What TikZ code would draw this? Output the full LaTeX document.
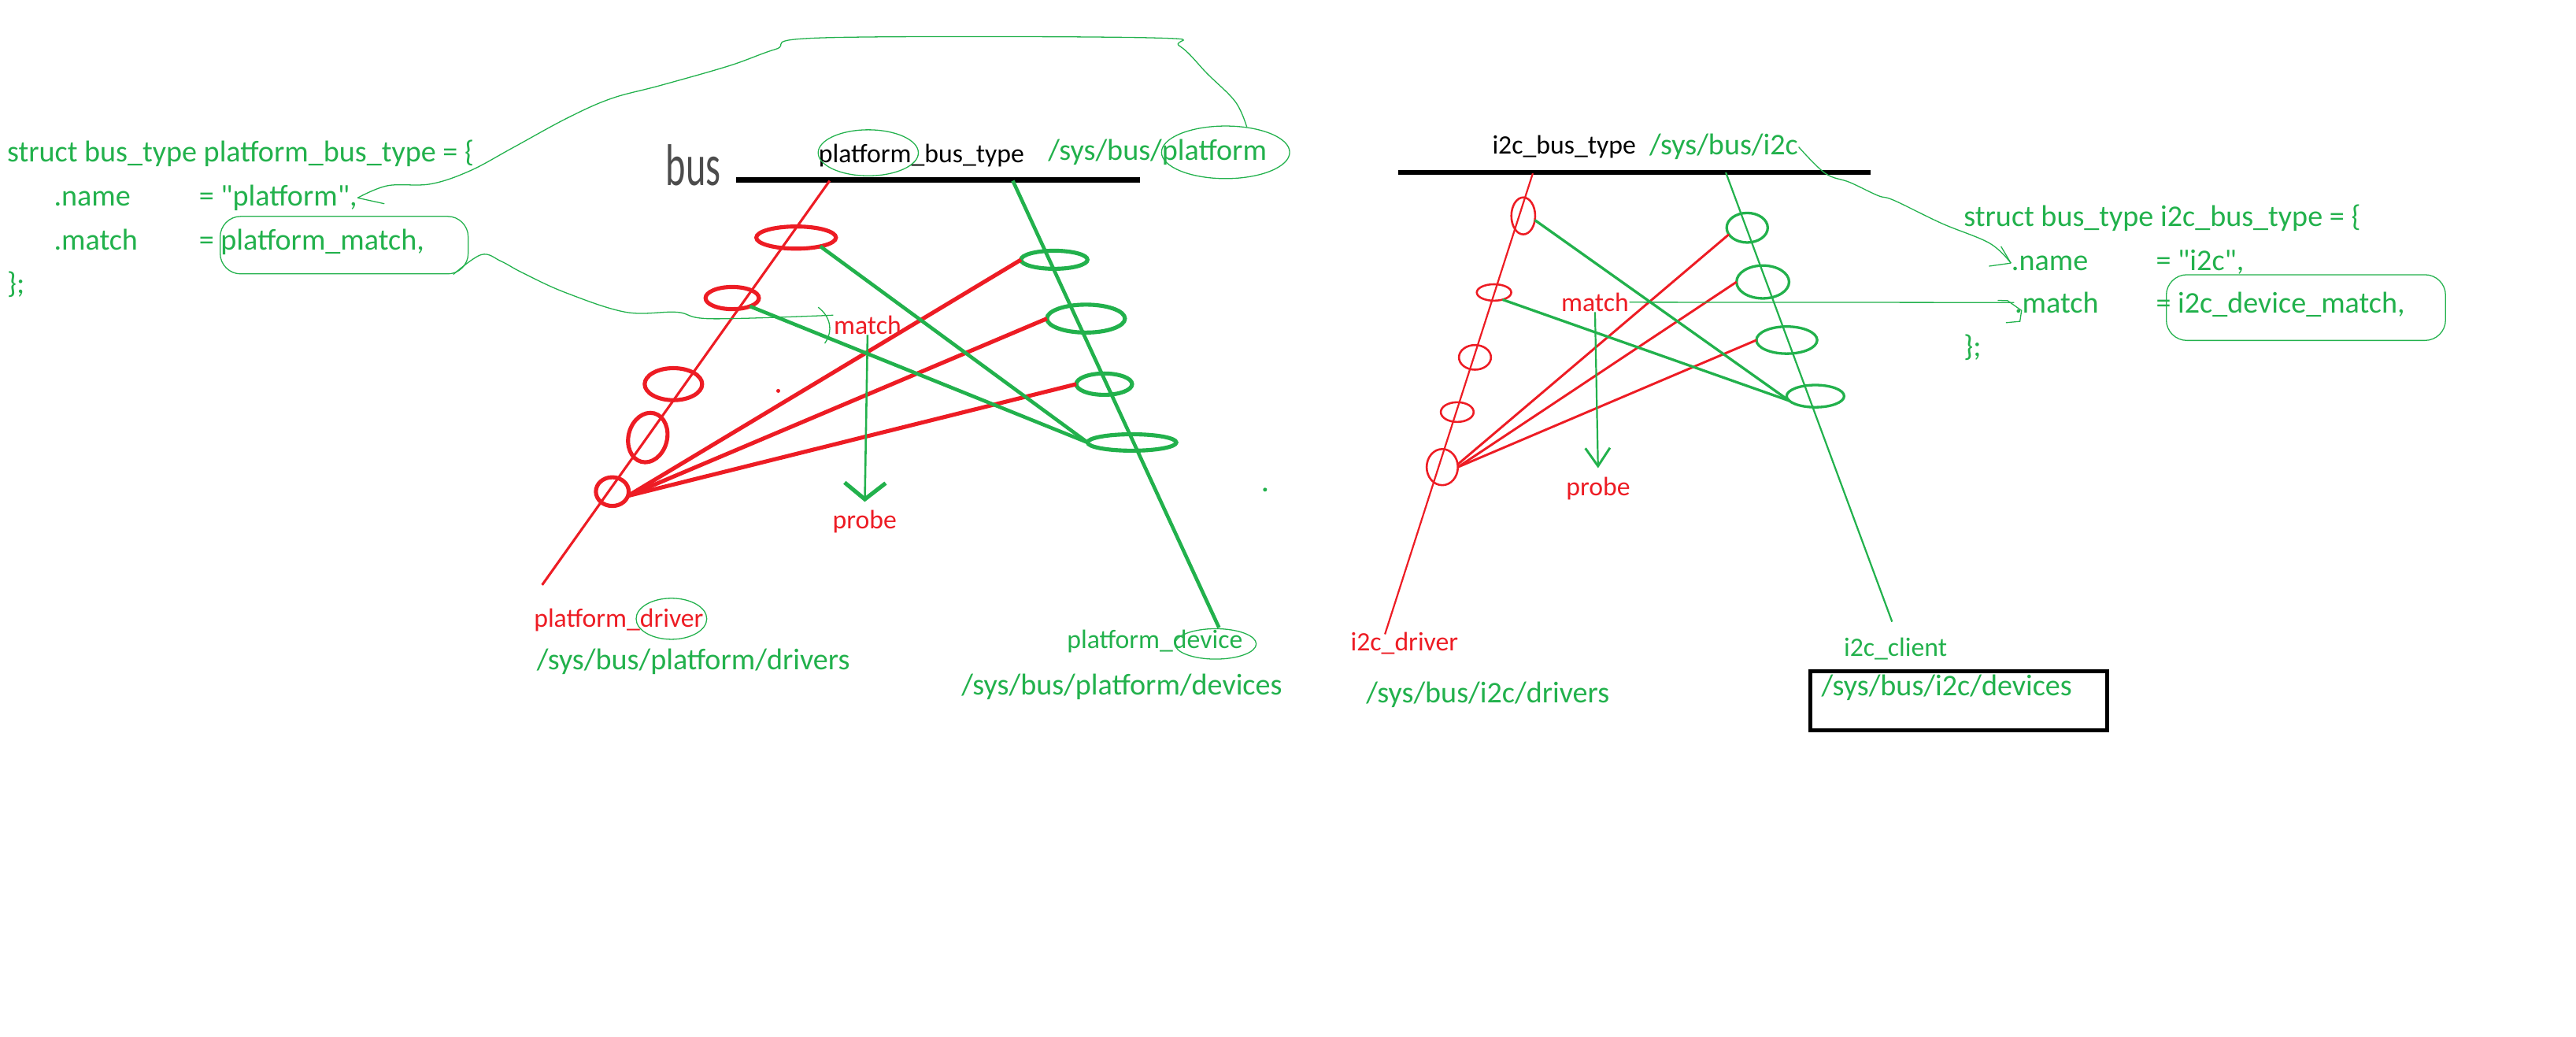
\documentclass[tikz,border=0pt]{standalone}
\usepackage{fontspec}
\usepackage{graphicx}
\setmainfont{Carlito}
\usetikzlibrary{shapes.geometric,arrows.meta}
\definecolor{pgreen}{HTML}{22B14C}
\definecolor{pred}{HTML}{ED1C24}
\newcommand{\codefont}{\fontsize{10.4}{12}\selectfont}
\newcommand{\lblfont}{\fontsize{9.2}{11}\selectfont}

\begin{document}
\begin{tikzpicture}[x=0.02cm,y=-0.02cm,
  codetxt/.style={anchor=base west,inner sep=0,text=pgreen,font=\codefont},
  lbl/.style={anchor=base west,inner sep=0,font=\lblfont},
  ring/.style={ellipse,inner sep=0,outer sep=0},
  hand/.style={draw=pgreen,line width=0.35pt},
  txtloop/.style={ellipse,inner sep=0,hand},
  txtbox/.style={rectangle,rounded corners=0.25cm,inner sep=0,hand},
  busline/.style={line width=1.7pt}]
\useasboundingbox (0,0) rectangle (1568,631);

% platform_bus_type
\node [codetxt] (pstruct) at (4,98.6) {struct bus\_type platform\_bus\_type = \{};
\node [codetxt] (pnm) at (32.5,125.3) {.name};
\node [codetxt] (pnmval) at (120.8,125.3) {= \textquotedbl platform\textquotedbl,};
\node [codetxt] (pmt) at (32.5,152) {.match};
\node [codetxt] (pmtval) at (120.8,152) {= platform\_match,};
\node [codetxt] (pend) at (4,178.5) {\};};

\node [lbl,font=\fontsize{12}{14}\selectfont,text=black!70] (pbus) at (405,113) {\scalebox{1.1}[1.7]{bus}};
\draw [busline] (448,109.5)--(694,109.5);
\node [lbl] (ptype) at (498,99.1) {platform\_bus\_type};
\node [codetxt] (psys) at (637.7,97.5) {/sys/bus/platform};
\node [txtloop,minimum width=1.22cm,minimum height=0.56cm] (ptypeloop) at (528.5,93) {};
\node [txtloop,minimum width=1.56cm,minimum height=0.64cm] (psysloop) at (746,92.7) {};
\node [txtbox,minimum width=3.02cm,minimum height=0.70cm] (pmtloop) at (209.5,149.2) {};

\coordinate (pdrvtop) at (505,110);
\coordinate (pdrvbot) at (330,356);
\coordinate (pdevtop) at (616.5,110);
\coordinate (pdevbot) at (742,382);
\draw [pred,line width=0.85pt] (pdrvtop)--(pdrvbot);
\draw [pgreen,line width=1.25pt] (pdevtop)--(pdevbot);

\node [ring,draw=pred,line width=1.4pt,minimum width=0.97cm,minimum height=0.27cm] (r1) at (484.6,144.6) {};
\node [ring,draw=pred,line width=1.4pt,minimum width=0.65cm,minimum height=0.27cm] (r2) at (445.7,181.4) {};
\node [ring,draw=pred,line width=1.4pt,minimum width=0.70cm,minimum height=0.39cm] (r3) at (409.9,233.8) {};
\node [ring,draw=pred,line width=1.4pt,minimum width=0.47cm,minimum height=0.61cm,rotate=-15] (r4) at (394.3,266.3) {};
\node [ring,draw=pred,line width=1.4pt,minimum width=0.40cm,minimum height=0.35cm] (r5) at (372.7,299.2) {};
\node [ring,draw=pgreen,line width=1.4pt,minimum width=0.81cm,minimum height=0.22cm] (g1) at (641.7,158.1) {};
\node [ring,draw=pgreen,line width=1.4pt,minimum width=0.95cm,minimum height=0.34cm] (g2) at (661,193.9) {};
\node [ring,draw=pgreen,line width=1.4pt,minimum width=0.68cm,minimum height=0.26cm] (g3) at (672.1,233.8) {};
\node [ring,draw=pgreen,line width=1.4pt,minimum width=1.08cm,minimum height=0.20cm] (g4) at (689,269.3) {};

\draw [pred,line width=1.4pt] (r5.-15)--(g1.west);
\draw [pred,line width=1.4pt] (r5.-15)--(g2.west);
\draw [pred,line width=1.4pt] (r5.-15)--(g3.west);
\draw [pgreen,line width=1.25pt] (r1.-20)--(g4.west);
\draw [pgreen,line width=1.25pt] (r2.-25)--(g4.west);
\fill [pred] (473.7,237.9) circle [radius=1.2];
\fill [pgreen] (770,298) circle [radius=1.2];

\node [lbl,text=pred] (pmatch) at (507.2,203.4) {match};
\node [lbl,text=pred] (pprobe) at (506.5,322) {probe};
\draw [pgreen,line width=0.7pt,-{Straight Barb[length=0.2cm,width=0.5cm,line width=1.4pt]},shorten >=0.1cm] (pmatch.south)--(pprobe.north);

\draw [hand] (234,124)--(pnmval.east);
\draw [hand] plot [smooth,tension=0.6] coordinates {(pnmval.east) (236,113) (262,112) (286,104) (312,90) (345,72) (372,60) (402,52) (444,40) (472,30) (501,23) (700,23) (718,28) (735,45) (752,62) (psysloop.50)};
\draw [hand] plot [smooth,tension=0.6] coordinates {(pmtloop.-15) (293,155) (305,159) (318,166) (344,178) (381,190) (412,190) (433,194) (pmatch.north west)};
\draw [hand] (498,187) .. controls (506,193) and (507,202) .. (502,209);

\node [lbl,text=pred] (pdrv) at (324.7,381.8) {platform\_driver};
\node [txtloop,minimum width=0.86cm,minimum height=0.50cm] (pdrvloop) at (408.7,376.6) {};
\node [codetxt] (pdrvsys) at (326.4,407.7) {/sys/bus/platform/drivers};
\node [lbl,text=pgreen] (pdev) at (649.2,394.8) {platform\_device};
\node [txtloop,minimum width=0.99cm,minimum height=0.37cm] (pdevloop) at (739.9,391.9) {};
\node [codetxt] (pdevsys) at (585,423) {/sys/bus/platform/devices};

% i2c_bus_type
\draw [busline] (851,105)--(1138.7,105);
\node [lbl] (itype) at (908,93.5) {i2c\_bus\_type};
\node [codetxt] (isys) at (1003.7,94.3) {/sys/bus/i2c};

\node [codetxt] (istruct) at (1195,137.7) {struct bus\_type i2c\_bus\_type = \{};
\node [codetxt] (inm) at (1224,164.5) {.name};
\node [codetxt] (inmval) at (1312,164.5) {= \textquotedbl i2c\textquotedbl,};
\node [codetxt] (imt) at (1226,190.4) {.match};
\node [codetxt] (imtval) at (1312,190.4) {= i2c\_device\_match,};
\node [codetxt] (iend) at (1195,217) {\};};
\node [txtbox,minimum width=3.40cm,minimum height=0.80cm] (imtloop) at (1403.6,187.2) {};

\coordinate (idrvtop) at (933,105.5);
\coordinate (idrvbot) at (843,386);
\coordinate (iclitop) at (1050.5,105);
\coordinate (iclibot) at (1151.7,378.4);
\draw [pred,line width=0.6pt] (idrvtop)--(idrvbot);
\draw [pgreen,line width=0.6pt] (iclitop)--(iclibot);

\node [ring,draw=pred,line width=0.7pt,minimum width=0.29cm,minimum height=0.45cm] (ir1) at (927.2,131.4) {};
\node [ring,draw=pred,line width=0.7pt,minimum width=0.42cm,minimum height=0.20cm] (ir2) at (909.4,178) {};
\node [ring,draw=pred,line width=0.7pt,minimum width=0.39cm,minimum height=0.30cm] (ir3) at (897.8,217.5) {};
\node [ring,draw=pred,line width=0.7pt,minimum width=0.40cm,minimum height=0.24cm] (ir4) at (887,250.8) {};
\node [ring,draw=pred,line width=0.7pt,minimum width=0.38cm,minimum height=0.44cm] (ir5) at (877.9,284.3) {};
\node [ring,draw=pgreen,line width=0.9pt,minimum width=0.50cm,minimum height=0.36cm] (ig1) at (1063.5,138.6) {};
\node [ring,draw=pgreen,line width=0.9pt,minimum width=0.64cm,minimum height=0.40cm] (ig2) at (1073,171.6) {};
\node [ring,draw=pgreen,line width=0.9pt,minimum width=0.74cm,minimum height=0.33cm] (ig3) at (1087.6,207) {};
\node [ring,draw=pgreen,line width=0.9pt,minimum width=0.70cm,minimum height=0.27cm] (ig4) at (1105,241.1) {};

\draw [pred,line width=0.8pt] (ir5.10)--(ig1.200);
\draw [pred,line width=0.8pt] (ir5.east)--(ig2.west);
\draw [pred,line width=0.8pt] (ir5.east)--(ig3.west);
\draw [pgreen,line width=0.9pt] (ir1.-20)--(ig4.190);
\draw [pgreen,line width=0.9pt] (ir2.-40)--(ig4.190);

\node [lbl,text=pred] (imatch) at (950,189.5) {match};
\node [lbl,text=pred] (iprobe) at (953,301.5) {probe};
\draw [pgreen,line width=0.6pt,-{Straight Barb[length=0.22cm,width=0.3cm,line width=0.8pt]},shorten >=0.1cm] (imatch.south)--(iprobe.north);

\draw [hand] plot [smooth,tension=0.6] coordinates {(isys.east) (1111,105.5) (1126,111) (1143,119) (1153,122) (1182,136) (1211,148) (inm.west)};
\draw [hand] (1210.7,162)--(inm.west);
\draw [hand] (1218,150)--(inm.west);
\draw [hand] (imatch.east)--(imt.west);
\draw [hand] (1216,182.8)--(1222,183)--(1230.5,189)--(1229.5,195.6)--(1221,196.4);

\node [lbl,text=pred] (idrv) at (821.8,396.2) {i2c\_driver};
\node [codetxt] (idrvsys) at (831.3,427.5) {/sys/bus/i2c/drivers};
\node [lbl,text=pgreen] (icli) at (1122,399.6) {i2c\_client};
\node [draw,line width=1.4pt,anchor=north west,inner sep=0,minimum width=3.62cm,minimum height=0.72cm] (idevbox) at (1100.6,407.2) {};
\node [codetxt] (idevsys) at (1108.4,423.2) {/sys/bus/i2c/devices};
\end{tikzpicture}
\end{document}
